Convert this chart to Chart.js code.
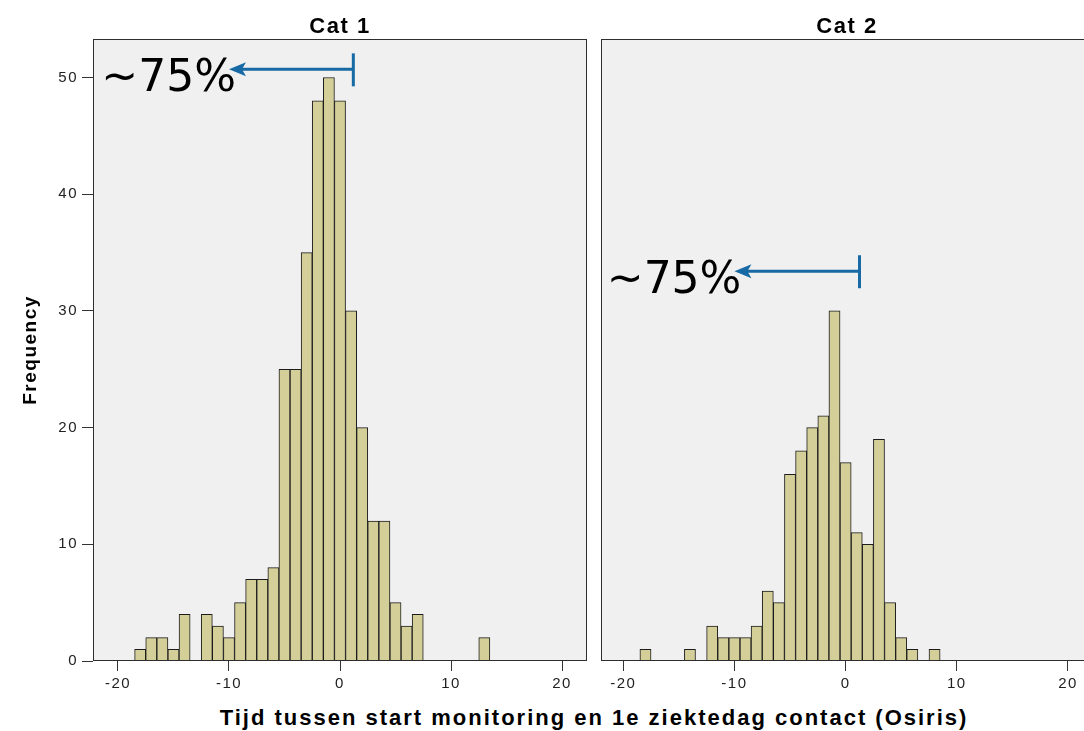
<!DOCTYPE html>
<html><head><meta charset="utf-8">
<script src="https://cdn.jsdelivr.net/npm/chart.js@4.4.1/dist/chart.umd.min.js"></script>
<style>
html,body{margin:0;padding:0;background:#fff;width:1084px;height:731px;overflow:hidden;position:relative}
canvas{position:absolute;top:0}
#xtitle{position:absolute;left:0;width:1188px;top:705px;text-align:center;font:bold 22px "Liberation Sans",Arial,sans-serif;letter-spacing:2px;color:#000;line-height:26px;white-space:nowrap}
</style></head><body>
<canvas id="c1" width="594" height="700" style="left:0"></canvas>
<canvas id="c2" width="510" height="700" style="left:592px"></canvas>
<div id="xtitle"></div>
<script>
const panelTitles = ['Cat 1', 'Cat 2'];
const yAxisTitle = 'Frequency';
const xAxisTitle = 'Tijd tussen start monitoring en 1e ziektedag contact (Osiris)';

const binsCat1 = [-18,-17,-16,-15,-14,-13,-12,-11,-10,-9,-8,-7,-6,-5,-4,-3,-2,-1,0,1,2,3,4,5,6,7,8,9,10,11,12,13];
const countsCat1 = [1,2,2,1,4,0,4,3,2,5,7,7,8,25,25,35,48,50,48,30,20,12,12,5,3,4,0,0,0,0,0,2];

const binsCat2 = [-18,-17,-16,-15,-14,-13,-12,-11,-10,-9,-8,-7,-6,-5,-4,-3,-2,-1,0,1,2,3,4,5,6,7,8];
const countsCat2 = [1,0,0,0,1,0,3,2,2,2,3,6,5,16,18,20,21,30,17,11,10,19,5,2,1,0,1];

const xTickValues = [-20,-10,0,10,20];
const yTickValues = [0,10,20,30,40,50];

const annotLabels = ['~75%', '~75%'];
const annotStartX = [1.2, 1.25];
const annotEndX = [-10, -10];
const annotY = [50.7, 33.4];

document.getElementById('xtitle').textContent = xAxisTitle;

Chart.defaults.font.family = '"Liberation Sans", Arial, sans-serif';

const panelPlugin = {
  id: 'panel',
  beforeDraw(chart) {
    const ctx = chart.ctx, a = chart.chartArea;
    ctx.letterSpacing = '1.5px';
    ctx.save();
    ctx.fillStyle = '#f0f0f0';
    ctx.fillRect(a.left, a.top, a.right - a.left, a.bottom - a.top);
    ctx.restore();
  },
  afterDraw(chart, args, opts) {
    const ctx = chart.ctx, a = chart.chartArea;
    ctx.save();
    ctx.strokeStyle = '#2e2e2e';
    ctx.lineWidth = 1;
    ctx.strokeRect(Math.round(a.left) + 0.5, Math.round(a.top) + 0.5, Math.round(a.right - a.left) - 1, Math.round(a.bottom - a.top) - 1);
    const i = opts.index;
    const xs = chart.scales.x, ys = chart.scales.y;
    const x0 = xs.getPixelForValue(annotStartX[i]);
    const x1 = xs.getPixelForValue(annotEndX[i]);
    const y = ys.getPixelForValue(annotY[i]);
    ctx.strokeStyle = '#176aa3';
    ctx.fillStyle = '#176aa3';
    ctx.lineWidth = 3;
    ctx.beginPath(); ctx.moveTo(x0, y); ctx.lineTo(x1 + 12, y); ctx.stroke();
    ctx.beginPath(); ctx.moveTo(x0, y - 16); ctx.lineTo(x0, y + 17); ctx.stroke();
    ctx.beginPath(); ctx.moveTo(x1, y); ctx.lineTo(x1 + 17, y - 7); ctx.lineTo(x1 + 13, y); ctx.lineTo(x1 + 17, y + 7); ctx.closePath(); ctx.fill();
    ctx.letterSpacing = '0px';
    ctx.font = '44px "DejaVu Sans"';
    ctx.fillStyle = '#000';
    ctx.textAlign = 'right';
    ctx.textBaseline = 'alphabetic';
    ctx.fillText(annotLabels[i], x1 + 7, y + 22);
    ctx.restore();
  }
};

function makeChart(id, idx, bins, counts, xmin, xmax, showY, padLeft, padRight) {
  return new Chart(document.getElementById(id), {
    type: 'bar',
    data: {
      datasets: [{
        data: bins.map((b, k) => ({ x: b, y: counts[k] > 0 ? counts[k] : null })),
        backgroundColor: '#d4cf98',
        borderColor: '#1c1c1c',
        borderWidth: 1,
        barPercentage: 1,
        categoryPercentage: 1,
        borderSkipped: 'start'
      }]
    },
    options: {
      responsive: false,
      maintainAspectRatio: false,
      animation: false,
      devicePixelRatio: 1,
      layout: { padding: { left: padLeft, right: padRight, top: 0, bottom: 0 } },
      plugins: {
        legend: { display: false },
        tooltip: { enabled: false },
        title: {
          display: true, text: panelTitles[idx], fullSize: false,
          font: { size: 22, weight: 'bold', lineHeight: 1.1 }, color: '#000',
          padding: { top: 14.5, bottom: 0.3 }
        },
        panel: { index: idx }
      },
      scales: {
        x: {
          type: 'linear', min: xmin, max: xmax, offset: false,
          afterBuildTicks: s => { s.ticks = xTickValues.map(v => ({ value: v })); },
          afterFit: s => { s.height = 39; },
          ticks: { font: { size: 15 }, color: '#222', padding: 4, maxRotation: 0, autoSkip: false },
          grid: { display: true, drawOnChartArea: false, drawTicks: true, tickLength: 10, color: '#333', offset: false },
          border: { display: false }
        },
        y: {
          display: showY,
          min: 0, max: 53.3,
          afterBuildTicks: s => { s.ticks = yTickValues.map(v => ({ value: v })); },
          afterFit: s => { s.width = showY ? 93 : 0; },
          ticks: { font: { size: 15 }, color: '#222', padding: 4 },
          grid: { display: true, drawOnChartArea: false, drawTicks: true, tickLength: 11, color: '#333' },
          border: { display: false },
          title: { display: true, text: yAxisTitle, font: { size: 19, weight: 'bold' }, color: '#000', padding: { top: 19, bottom: 0 } }
        }
      }
    },
    plugins: [panelPlugin]
  });
}

makeChart('c1', 0, binsCat1, countsCat1, -22.25, 22.25, true, 0, 7);
makeChart('c2', 1, binsCat2, countsCat2, -22, 22.25, false, 9, 9);
</script>
</body></html>
